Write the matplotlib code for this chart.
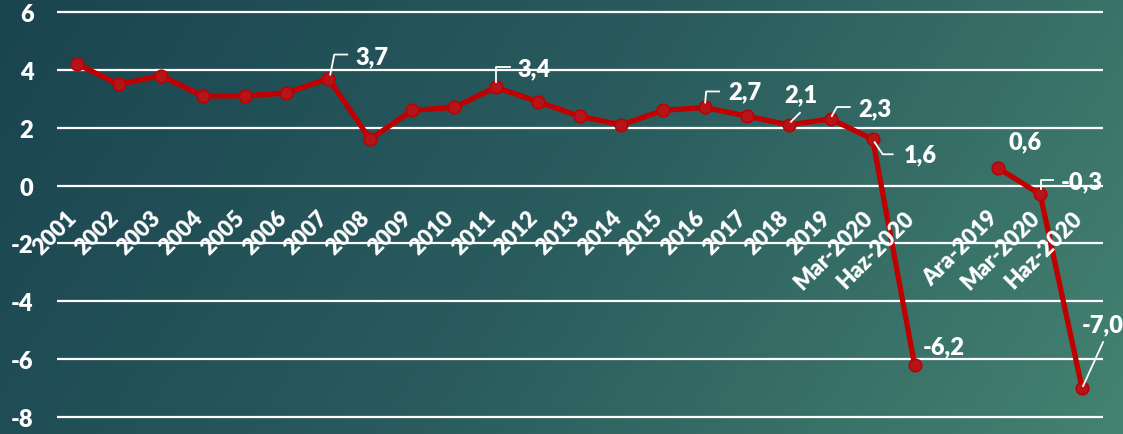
import numpy as np
import matplotlib
matplotlib.use("Agg")
import matplotlib.pyplot as plt
from matplotlib.lines import Line2D
import matplotlib.transforms as mtransforms
from matplotlib.colors import LinearSegmentedColormap

plt.rcParams['font.family'] = ['Lato', 'DejaVu Sans']
WEIGHT = 'heavy'

# ---- data ----
categories = ['2001', '2002', '2003', '2004', '2005', '2006', '2007', '2008', '2009', '2010',
              '2011', '2012', '2013', '2014', '2015', '2016', '2017', '2018', '2019',
              'Mar-2020', 'Haz-2020', '', 'Ara-2019', 'Mar-2020', 'Haz-2020']
annual_values = [4.2, 3.5, 3.8, 3.1, 3.1, 3.2, 3.7, 1.6, 2.6, 2.7,
                 3.4, 2.9, 2.4, 2.1, 2.6, 2.7, 2.4, 2.1, 2.3, 1.6, -6.2]
quarter_values = [0.6, -0.3, -7.0]
quarter_start = 22
yticks = [-8, -6, -4, -2, 0, 2, 4, 6]
labelled = [6, 10, 15, 17, 18, 19, 20, 22, 23, 24]

W, H, DPI = 1123, 435, 100
fig = plt.figure(figsize=(W / DPI, H / DPI), dpi=DPI)

# background gradient
bg = fig.add_axes([0, 0, 1, 1])
bg.set_axis_off()
cmap = LinearSegmentedColormap.from_list('bg', ['#1a4450', '#2a5c5e', '#448270'])
gx, gy = np.meshgrid(np.linspace(0, 1, 400), np.linspace(0, 1, 160))
grad = 0.8 * gx + 0.2 * gy
bg.imshow(grad, cmap=cmap, aspect='auto', extent=[0, 1, 0, 1], origin='upper', vmin=0, vmax=1)

# main axes (pixel geometry)
left_px, right_px = 57, 1103
y_top_px, y_bot_px = 13, 418
ymin, ymax = -8.1, 6.1
ppu = (y_bot_px - y_top_px) / 14.0
top_px = y_top_px - (ymax - 6) * ppu
bot_px = y_bot_px + (-8 - ymin) * ppu
ax = fig.add_axes([left_px / W, (H - bot_px) / H, (right_px - left_px) / W, (bot_px - top_px) / H])
ax.set_facecolor('none')
for s in ax.spines.values():
    s.set_visible(False)
ax.set_xlim(-0.478, 24.5)
ax.set_ylim(ymin, ymax)
ax.set_yticks(yticks)
ax.set_yticklabels([str(t) for t in yticks])
ax.tick_params(axis='y', length=0, pad=17, labelcolor='white', labelsize=17)
for lab in ax.get_yticklabels():
    lab.set_fontweight(WEIGHT)
ax.set_xticks([])
for t in yticks:
    ax.axhline(t, color='white', lw=1.6, zorder=1)

red = '#c00000'
x_annual = np.arange(len(annual_values))
x_quarter = np.arange(quarter_start, quarter_start + len(quarter_values))
for xs, ys in [(x_annual, annual_values), (x_quarter, quarter_values)]:
    ax.plot(xs, ys, color=red, lw=3.8, zorder=3, solid_capstyle='round',
            marker='o', markersize=9, markerfacecolor='#b3161a', markeredgecolor=red,
            markeredgewidth=1.2, clip_on=False)

# x category labels
for i, c in enumerate(categories):
    if not c:
        continue
    ax.annotate(c, xy=(i, 0), xytext=(4, -21), textcoords='offset pixels',
                ha='right', va='top', rotation=45, color='white', fontsize=16,
                fontweight=WEIGHT, annotation_clip=False)

# data labels
all_vals = {i: v for i, v in enumerate(annual_values)}
all_vals.update({quarter_start + j: v for j, v in enumerate(quarter_values)})

# offsets in pixels (image y down): leader vertices, text left & center
label_style = {
    6:  ([(2, -4), (6, -24), (19, -24)], (27, -22)),
    10: ([(0, -5), (0, -20), (14, -20)], (22, -19)),
    15: ([(0, -5), (1, -16), (14, -16)], (23, -16)),
    17: ([(2, -3), (11, -12)], (-5, -31)),
    18: ([(1, -3), (6, -12), (19, -12)], (27, -11)),
    19: ([(2, 3), (10, 15), (20, 15)], (31, 15)),
    20: ([], (8, -19)),
    22: ([], (10, -27)),
    23: ([(1, -5), (1, -14), (13, -14)], (21, -13)),
    24: ([(1, -2), (21, -46)], (0, -64)),
}
fig.canvas.draw()
for i in labelled:
    v = all_vals[i]
    px, py = ax.transData.transform((i, v))
    verts, (tx, ty) = label_style[i]
    if verts:
        xs = [px + dx for dx, dy in verts]
        ys = [py - dy for dx, dy in verts]
        fig.add_artist(Line2D(xs, ys, color='white', lw=1.3,
                              transform=mtransforms.IdentityTransform(), zorder=5))
    txt = ('%.1f' % v).replace('.', ',')
    ax.annotate(txt, xy=(i, v), xytext=(tx, -ty), textcoords='offset pixels',
                ha='left', va='center', color='white', fontsize=17,
                fontweight=WEIGHT, annotation_clip=False, zorder=6)

fig.savefig('out.png', dpi=DPI)
